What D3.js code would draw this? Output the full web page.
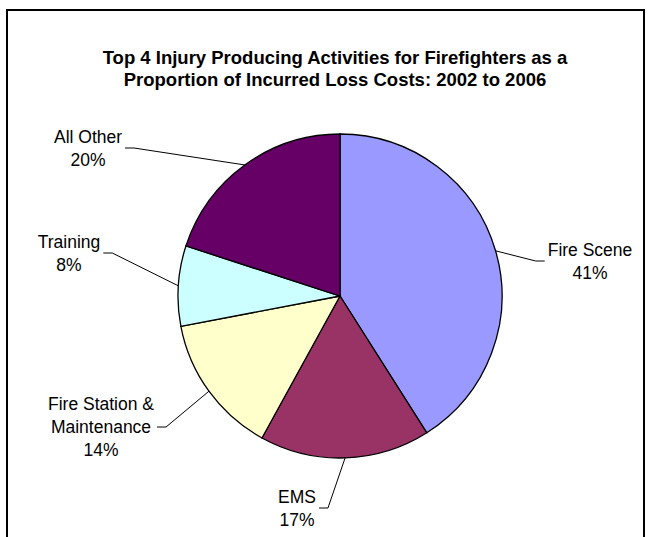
<!DOCTYPE html>
<html>
<head>
<meta charset="utf-8">
<script src="https://cdn.jsdelivr.net/npm/d3@7"></script>
<style>
  body { margin: 0; background: #fff; }
  text { font-family: "Liberation Sans", Arial, sans-serif; fill: #000; }
</style>
</head>
<body>
<div id="chart"></div>
<script>
// chart data
var categories = ["Fire Scene", "EMS", "Fire Station & Maintenance", "Training", "All Other"];
var values = [41, 17, 14, 8, 20];
var colors = ["#9999ff", "#993366", "#ffffcc", "#ccffff", "#660066"];
var labelLines = [["Fire Scene"], ["EMS"], ["Fire Station &", "Maintenance"], ["Training"], ["All Other"]];
var titleLines = ["Top 4 Injury Producing Activities for Firefighters as a",
                  "Proportion of Incurred Loss Costs: 2002 to 2006"];

var width = 654, height = 537;
var cx = 340, cy = 296, radius = 162;

// where each label block sits (center) and which side the leader comes in from
var labelPos = [[590, 261], [297, 508], [101, 427], [69, 253], [88, 148]];
var labelSide = ["right", "left", "left", "left", "left"];
var lineH = 23;

var svg = d3.select("#chart").append("svg")
    .attr("width", width)
    .attr("height", height);

// outer frame (open at bottom)
svg.append("rect")
    .attr("x", 7)
    .attr("y", 10)
    .attr("width", 637)
    .attr("height", 560)
    .attr("fill", "none")
    .attr("stroke", "#000")
    .attr("stroke-width", 2);

svg.selectAll(".title")
    .data(titleLines)
    .enter().append("text")
    .attr("class", "title")
    .attr("x", 335)
    .attr("y", function(d, i) { return 58 + i * 22; })
    .attr("dy", "0.35em")
    .attr("text-anchor", "middle")
    .style("font-size", "18.5px")
    .style("font-weight", "bold")
    .text(function(d) { return d; });

var data = categories.map(function(c, i) { return { name: c, value: values[i], i: i }; });

var pie = d3.pie().sort(null).value(function(d) { return d.value; });
var arc = d3.arc().innerRadius(0).outerRadius(radius);

var g = svg.append("g").attr("transform", "translate(" + cx + "," + cy + ")");

var arcs = pie(data);

g.selectAll("path")
    .data(arcs)
    .enter().append("path")
    .attr("d", arc)
    .attr("fill", function(d) { return colors[d.data.i]; })
    .attr("stroke", "#000")
    .attr("stroke-width", 1.3);

// labels
var labels = svg.selectAll(".label")
    .data(arcs)
    .enter().append("g")
    .attr("class", "label");

labels.each(function(d) {
    var i = d.data.i;
    var lines = labelLines[i].concat([d.data.value + "%"]);
    var n = lines.length;
    var top = labelPos[i][1] - (n - 1) * lineH / 2;
    var sel = d3.select(this);
    var maxW = 0;
    lines.forEach(function(t, k) {
        var txt = sel.append("text")
            .attr("x", labelPos[i][0])
            .attr("y", top + k * lineH)
            .attr("dy", "0.35em")
            .attr("text-anchor", "middle")
            .style("font-size", "17.5px")
            .text(t);
        maxW = Math.max(maxW, txt.node().getComputedTextLength());
    });

    // leader line: slice edge at mid angle -> elbow -> label
    var mid = (d.startAngle + d.endAngle) / 2;
    var px = cx + radius * Math.sin(mid);
    var py = cy - radius * Math.cos(mid);
    var ly = labelPos[i][1];
    var ex, sx;
    if (labelSide[i] == "right") {
        ex = labelPos[i][0] - maxW / 2 - 3;
        sx = ex - 9;
    } else {
        ex = labelPos[i][0] + maxW / 2 + 3;
        sx = ex + 9;
    }
    sel.append("path")
        .attr("d", "M" + px + "," + py + "L" + sx + "," + ly + "L" + ex + "," + ly)
        .attr("fill", "none")
        .attr("stroke", "#000")
        .attr("stroke-width", 1);
});
</script>
</body>
</html>
